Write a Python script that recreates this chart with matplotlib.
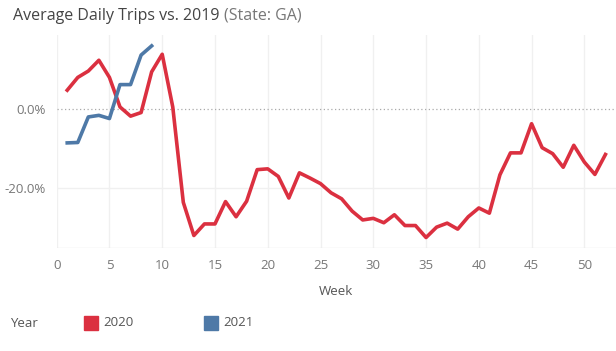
import matplotlib.pyplot as plt
from matplotlib.patches import Rectangle

plt.rcParams['font.family'] = ['Open Sans', 'DejaVu Sans']

# weekly change vs 2019, in percent
weeks_2020 = list(range(1, 53))
trips_2020 = [4.6, 7.8, 9.4, 12.1, 7.8, 0.4, -1.9, -1.0, 9.2, 13.6,
              0.4, -23.5, -31.8, -28.9, -28.9, -23.3, -27.1, -23.2, -15.3, -15.1,
              -17.0, -22.4, -16.1, -17.4, -18.8, -21.1, -22.6, -25.7, -27.9, -27.5,
              -28.6, -26.6, -29.3, -29.3, -32.3, -29.7, -28.7, -30.2, -27.1, -24.9,
              -26.2, -16.6, -11.1, -11.1, -3.8, -9.8, -11.3, -14.7, -9.2, -13.4,
              -16.5, -11.5]
weeks_2021 = list(range(1, 10))
trips_2021 = [-8.6, -8.5, -2.1, -1.7, -2.5, 6.0, 6.0, 13.4, 15.7]

red = '#db3040'
blue = '#4e79a7'
grid = '#f0f0f0'
tick_col = '#777777'

fig = plt.figure(figsize=(6.16, 3.51), dpi=100)
ax = fig.add_axes([0.092, 0.2926, 0.908, 0.6074])

ax.plot(weeks_2020, trips_2020, color=red, lw=2.6, solid_joinstyle='round', zorder=3)
ax.plot(weeks_2021, trips_2021, color=blue, lw=2.6, solid_joinstyle='round', zorder=3)

ax.set_xlim(0, 53)
ax.set_ylim(-35, 18.4)
ax.set_xticks(range(0, 51, 5))
ax.set_yticks([0, -20])
ax.set_yticklabels(['0.0%', '-20.0%'])

for x in range(0, 51, 5):
    ax.axvline(x, color=grid, lw=1, zorder=0)
ax.axhline(-20, color=grid, lw=1, zorder=0)
ax.axhline(-35, color='#e6e6e6', lw=1, zorder=0)
ax.axhline(0, color='#aaaaaa', lw=0.9, ls=(0, (1, 2)), zorder=1)

for s in ax.spines.values():
    s.set_visible(False)
ax.tick_params(length=0, colors=tick_col, labelsize=9.5, pad=8)

ax.set_xlabel('Week', color='#555555', fontsize=9.5, labelpad=9)

t1 = fig.text(0.021, 0.955, 'Average Daily Trips vs. 2019', fontsize=11.5,
              color='#444444', va='center')
fig.canvas.draw()
bb = t1.get_window_extent()
fig.text(bb.x1 / fig.bbox.width + 0.008, 0.955, '(State: GA)', fontsize=11.5,
         color='#777777', va='center')

# legend
fig.text(0.016, 0.079, 'Year', fontsize=9.5, color='#555555', va='center')
fig.patches.append(Rectangle((84 / 616, 1 - 330 / 351), 14 / 616, 14 / 351,
                             transform=fig.transFigure, color=red))
fig.text(103 / 616, 0.081, '2020', fontsize=9.5, color='#555555', va='center')
fig.patches.append(Rectangle((204 / 616, 1 - 330 / 351), 14 / 616, 14 / 351,
                             transform=fig.transFigure, color=blue))
fig.text(223 / 616, 0.081, '2021', fontsize=9.5, color='#555555', va='center')

fig.savefig('out.png', dpi=100)
